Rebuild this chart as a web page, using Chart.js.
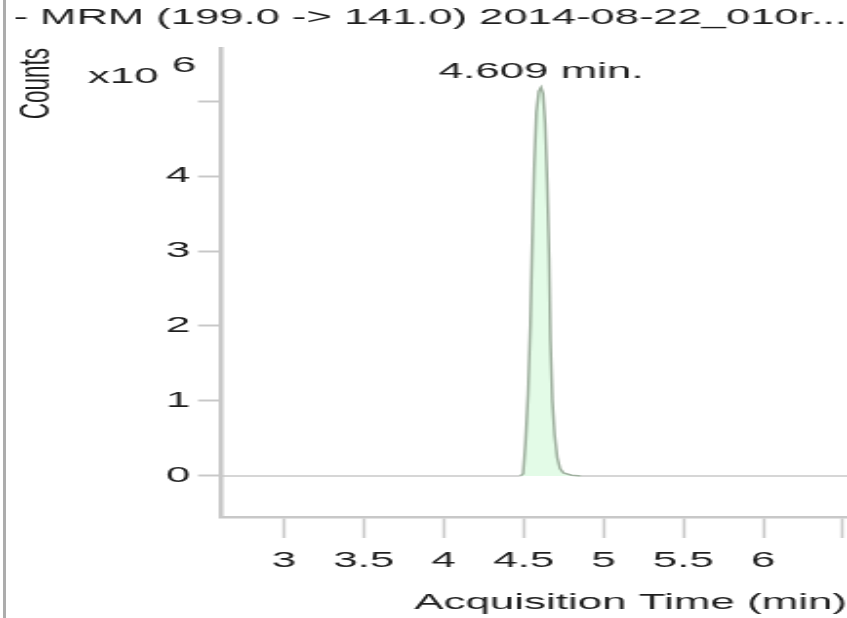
<!DOCTYPE html>
<html>
<head>
<meta charset="utf-8">
<title>MRM chromatogram</title>
<script src="https://cdn.jsdelivr.net/npm/chart.js@4.4.1/dist/chart.umd.min.js"></script>
<style>
    html, body { margin: 0; padding: 0; background: #fff; overflow: hidden; }
    #wrap { position: relative; width: 847px; height: 618px; }
    /* the source picture is stretched sideways, so the canvas is drawn narrow and widened by CSS */
    #chart { position: absolute; left: 0; top: 0; width: 847px; height: 618px; }
    #edge { position: absolute; left: 3px; top: 0; width: 3px; height: 618px; background: #acacac; }
</style>
</head>
<body>
<div id="wrap">
    <canvas id="chart" width="434" height="618" style="width:847px;height:618px"></canvas>
    <div id="edge"></div>
</div>
<script>
// chart text
const titleText = '- MRM (199.0 -> 141.0) 2014-08-22_010r...';
const xTitle = 'Acquisition Time (min)';
const yTitle = 'Counts';

// axis ticks
const xTicks = [3, 3.5, 4, 4.5, 5, 5.5, 6, 6.5];
const xTickLabels = ['3', '3.5', '4', '4.5', '5', '5.5', '6', ''];
const yTicks = [0, 1, 2, 3, 4, 5];
const yTickLabels = ['0', '1', '2', '3', '4', ''];

// trace (counts in units of 10^6)
const times = [2.6, 4.480, 4.497, 4.512, 4.528, 4.542, 4.553, 4.566, 4.580, 4.595, 4.609,
               4.622, 4.635, 4.648, 4.660, 4.668, 4.680, 4.694, 4.710, 4.728, 4.750, 4.800, 4.860, 6.53];
const countsE6 = [0, 0, 0.03, 0.45, 1.1, 2.0, 3.0, 4.1, 4.85, 5.13, 5.18,
                  5.1, 4.7, 3.9, 2.9, 1.8, 1.0, 0.55, 0.25, 0.1, 0.04, 0.01, 0, 0];

const peakTime = 4.609;
const peakHeight = 5.18;
const peakLabel = '4.609 min.';

const FONT = "'Liberation Sans', Arial, sans-serif";
const TEXT = '#1e1e1e';
const AXIS = '#c8c8c8';

Chart.defaults.font.family = FONT;
Chart.defaults.font.size = 22.5;
Chart.defaults.color = TEXT;

// "x10 6" exponent and the retention time over the peak
const labelsPlugin = {
    id: 'chromLabels',
    afterDraw(chart) {
        const ctx = chart.ctx;
        const x = chart.scales.x;
        const y = chart.scales.y;
        ctx.save();
        ctx.fillStyle = TEXT;
        ctx.font = '22.5px ' + FONT;
        ctx.textBaseline = 'middle';
        ctx.textAlign = 'left';
        ctx.fillText('x10', 45, chart.chartArea.top + 29);
        ctx.fillText('6', 88, chart.chartArea.top + 18);
        ctx.textAlign = 'center';
        ctx.fillText(peakLabel, x.getPixelForValue(peakTime), y.getPixelForValue(peakHeight) - 16);
        ctx.restore();
    }
};

const points = times.map((t, i) => ({ x: t, y: countsE6[i] }));

new Chart(document.getElementById('chart'), {
    type: 'line',
    data: {
        datasets: [{
            data: points,
            borderWidth: 1.5,
            borderColor: '#9fb09f',
            backgroundColor: '#e3fbe7',
            fill: 'origin',
            tension: 0,
            pointRadius: 0,
            segment: {
                borderColor: c => (c.p0.parsed.y === 0 && c.p1.parsed.y === 0) ? AXIS : '#9fb09f'
            }
        }]
    },
    options: {
        responsive: false,
        animation: false,
        layout: { padding: { left: 7, top: 0, right: 0, bottom: 0 } },
        plugins: {
            legend: { display: false },
            tooltip: { enabled: false },
            title: {
                display: true,
                text: titleText,
                align: 'start',
                color: TEXT,
                font: { size: 22.5, weight: 'normal' },
                padding: { top: 4.5, bottom: 16.5 }
            }
        },
        scales: {
            x: {
                type: 'linear',
                min: 2.6,
                max: 6.525,
                afterBuildTicks: s => { s.ticks = xTicks.map(v => ({ value: v })); },
                afterFit: s => { s.height = 101; s.paddingLeft = 0; s.paddingRight = 0; },
                ticks: {
                    padding: 9,
                    maxRotation: 0,
                    autoSkip: false,
                    callback: (v, i) => xTickLabels[i]
                },
                grid: {
                    drawOnChartArea: false,
                    drawTicks: true,
                    tickLength: 21,
                    tickWidth: 1.5,
                    tickColor: AXIS
                },
                border: { display: true, color: AXIS, width: 2.5 },
                title: {
                    display: true,
                    text: xTitle,
                    align: 'end',
                    padding: { top: 0, bottom: 1.5 }
                }
            },
            y: {
                min: -0.547,
                max: 5.707,
                afterBuildTicks: s => { s.ticks = yTicks.map(v => ({ value: v })); },
                afterFit: s => { s.width = 105.8; s.paddingTop = 0; s.paddingBottom = 0; },
                ticks: {
                    padding: 4,
                    autoSkip: false,
                    callback: (v, i) => yTickLabels[i]
                },
                grid: {
                    drawOnChartArea: false,
                    drawTicks: true,
                    tickLength: 11.3,
                    tickWidth: 2,
                    tickColor: AXIS
                },
                border: { display: true, color: AXIS, width: 2.5 },
                title: {
                    display: true,
                    text: yTitle,
                    align: 'end',
                    padding: { top: -2, bottom: 0 }
                }
            }
        }
    },
    plugins: [labelsPlugin]
});
</script>
</body>
</html>
